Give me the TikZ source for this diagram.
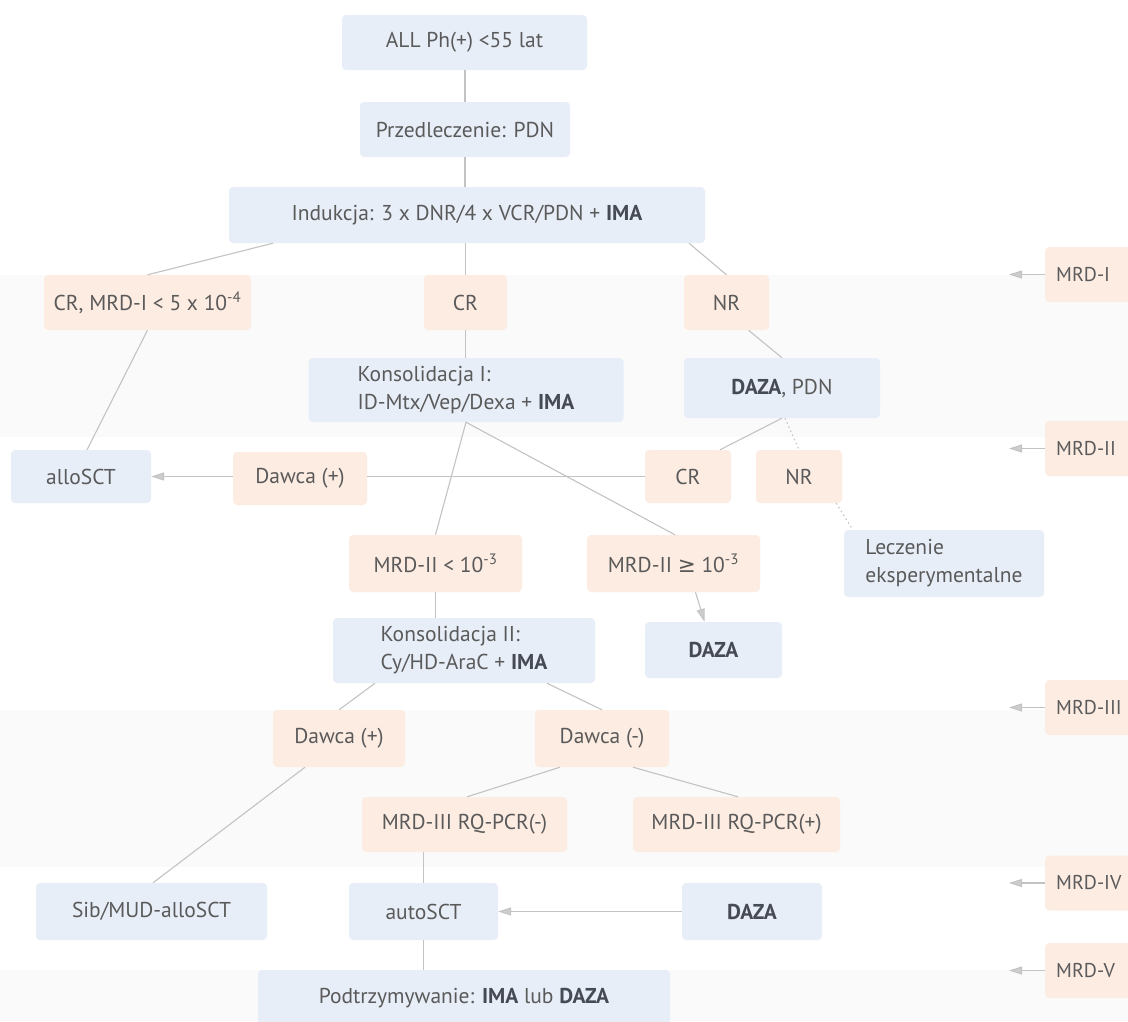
\documentclass[tikz,border=0pt]{standalone}
\usepackage{fontspec}
\setmainfont{PT Sans}
\newfontfamily\symfont{DejaVu Sans}
\usetikzlibrary{arrows.meta}
\definecolor{bfill}{RGB}{232,238,248}
\definecolor{ofill}{RGB}{253,236,226}
\definecolor{txt}{RGB}{90,90,90}
\definecolor{btxt}{RGB}{70,74,84}
\definecolor{lncol}{RGB}{195,195,195}
\definecolor{tipcol}{RGB}{205,205,205}
\definecolor{bandcol}{RGB}{250,250,250}
\newcommand{\B}[1]{\textbf{\color{btxt}#1}}
\begin{document}
\begin{tikzpicture}[x=1pt,y=-1pt,
  box/.style={rectangle, rounded corners=4pt, inner sep=0pt, text=txt,
    font=\fontsize{21.5}{28}\selectfont, align=center},
  bbox/.style={box, fill=bfill},
  obox/.style={box, fill=ofill},
  mbox/.style={obox, anchor=west, text width=80pt, align=left, inner xsep=11pt, minimum height=55pt,
    font=\fontsize{20}{26}\selectfont},
  conn/.style={draw=lncol, line width=1.1pt},
  arr/.style={conn, -{Triangle[length=13pt,width=8pt,fill=tipcol]}},
  dotconn/.style={conn, dash pattern=on 1.5pt off 3pt}]
\useasboundingbox (0,0) rectangle (1128,1021);
\clip (0,0) rectangle (1128,1021);
\fill[white] (0,0) rectangle (1128,1021);
% faint background bands
\fill[bandcol] (0,275) rectangle (1128,437);
\fill[bandcol] (0,710) rectangle (1128,867);
\fill[bandcol] (0,970) rectangle (1128,1021);

% nodes
\node[bbox, minimum width=245pt, minimum height=55pt] (all) at (464.5,42.5) {ALL Ph(+) <55 lat};
\node[bbox, minimum width=210pt, minimum height=55pt] (pre) at (465,129.5) {Przedleczenie: PDN};
\node[bbox, minimum width=476pt, minimum height=56pt] (ind) at (467,215) {Indukcja: 3 x DNR/4 x VCR/PDN + \B{IMA}};
\node[obox, minimum width=207pt, minimum height=55pt] (crm) at (147.5,302.5) {CR, MRD-I < 5 x 10\textsuperscript{-4}};
\node[obox, minimum width=83pt, minimum height=55pt] (cr) at (465.5,302.5) {CR};
\node[obox, minimum width=85pt, minimum height=55pt] (nr) at (726.5,302.5) {NR};
\node[bbox, minimum width=315pt, minimum height=64pt, align=left] (kon1) at (466,390) {Konsolidacja I:\\ID-Mtx/Vep/Dexa + \B{IMA}};
\node[bbox, minimum width=196pt, minimum height=60pt] (dpdn) at (782,388) {\B{DAZA}, PDN};
\node[bbox, minimum width=140pt, minimum height=53pt] (allo) at (81,476.5) {alloSCT};
\node[obox, minimum width=134pt, minimum height=53pt] (daw1) at (300,478.5) {Dawca (+)};
\node[obox, minimum width=86pt, minimum height=53pt] (cr2) at (688,476.5) {CR};
\node[obox, minimum width=86pt, minimum height=53pt] (nr2) at (799,476.5) {NR};
\node[bbox, minimum width=200pt, minimum height=67pt, align=left] (lec) at (944,563.5) {Leczenie\\eksperymentalne};
\node[obox, minimum width=173pt, minimum height=57pt] (mlt) at (435.5,563.5) {MRD-II < 10\textsuperscript{-3}};
\node[obox, minimum width=173pt, minimum height=57pt] (mge) at (673.5,563.5) {MRD-II {\symfont ≥} 10\textsuperscript{-3}};
\node[bbox, minimum width=137pt, minimum height=56pt] (dz3) at (713.5,650) {\B{DAZA}};
\node[bbox, minimum width=262pt, minimum height=65pt, align=left] (kon2) at (464,650.5) {Konsolidacja II:\\Cy/HD-AraC + \B{IMA}};
\node[obox, minimum width=132pt, minimum height=57pt] (daw2) at (339,738.5) {Dawca (+)};
\node[obox, minimum width=134pt, minimum height=57pt] (dawm) at (602,738.5) {Dawca (-)};
\node[obox, minimum width=205pt, minimum height=55pt] (rqm) at (464.5,824.5) {MRD-III RQ-PCR(-)};
\node[obox, minimum width=207pt, minimum height=55pt] (rqp) at (736.5,824.5) {MRD-III RQ-PCR(+)};
\node[bbox, minimum width=231pt, minimum height=57pt] (sib) at (151.5,911.5) {Sib/MUD-alloSCT};
\node[bbox, minimum width=149pt, minimum height=57pt] (auto) at (423.5,911.5) {autoSCT};
\node[bbox, minimum width=140pt, minimum height=57pt] (dz4) at (752,911.5) {\B{DAZA}};
\node[bbox, minimum width=412pt, minimum height=56pt] (pod) at (464,998) {Podtrzymywanie: \B{IMA} lub \B{DAZA}};

% MRD level labels
\node[mbox] (m1) at (1045,274.5) {MRD-I};
\node[mbox] (m2) at (1045,448.5) {MRD-II};
\node[mbox] (m3) at (1045,707.5) {MRD-III};
\node[mbox] (m4) at (1045,883) {MRD-IV};
\node[mbox] (m5) at (1045,970.5) {MRD-V};
\coordinate (t1) at (1009,274.5);
\coordinate (t2) at (1009,448.5);
\coordinate (t3) at (1009,707.5);
\coordinate (t4) at (1009,883);
\coordinate (t5) at (1009,970.5);
\foreach \i in {1,...,5} {\draw[arr] (m\i.west) -- (t\i);}

% connectors
\draw[conn] (all.south -| pre.north) -- (pre.north);
\draw[conn] (pre.south) -- (pre.south |- ind.north);
\draw[conn] ([xshift=-194pt]ind.south) -- (crm.north);
\draw[conn] (ind.south -| cr.north) -- (cr.north);
\draw[conn] ([xshift=222pt]ind.south) -- (nr.north);
\draw[conn] (crm.south) -- ([xshift=6pt]allo.north);
\draw[conn] (cr.south) -- (cr.south |- kon1.north);
\draw[conn] ([xshift=22pt]nr.south) -- (dpdn.north);
\draw[conn] (dpdn.south) -- ([xshift=32pt]cr2.north);
\draw[dotconn] ([xshift=3pt]dpdn.south) -- (nr2.north);
\draw[dotconn] ([xshift=-6pt]nr2.south east) -- ([xshift=9pt]lec.north west);
\draw[conn] (cr2.west) -- (cr2.west -| daw1.east);
\draw[arr] (daw1.west |- cr2.west) -- (cr2.west -| allo.east);
\draw[conn] (kon1.south) -- (mlt.north);
\draw[conn] (kon1.south) -- ([xshift=1.5pt]mge.north);
\draw[arr] ([xshift=22pt]mge.south) -- ([xshift=-9pt]dz3.north);
\draw[conn] (mlt.south) -- (mlt.south |- kon2.north);
\draw[conn] ([xshift=-89pt]kon2.south) -- (daw2.north);
\draw[conn] ([xshift=83pt]kon2.south) -- (dawm.north);
\draw[conn] ([xshift=-42pt]dawm.south) -- ([xshift=2.5pt]rqm.north);
\draw[conn] ([xshift=31pt]dawm.south) -- ([xshift=1.5pt]rqp.north);
\draw[conn] ([xshift=-34pt]daw2.south) -- ([xshift=1.5pt]sib.north);
\draw[conn] (auto.north |- rqm.south) -- (auto.north);
\draw[arr] (dz4.west) -- (dz4.west -| auto.east);
\draw[conn] (auto.south) -- (auto.south |- pod.north);
\end{tikzpicture}
\end{document}
